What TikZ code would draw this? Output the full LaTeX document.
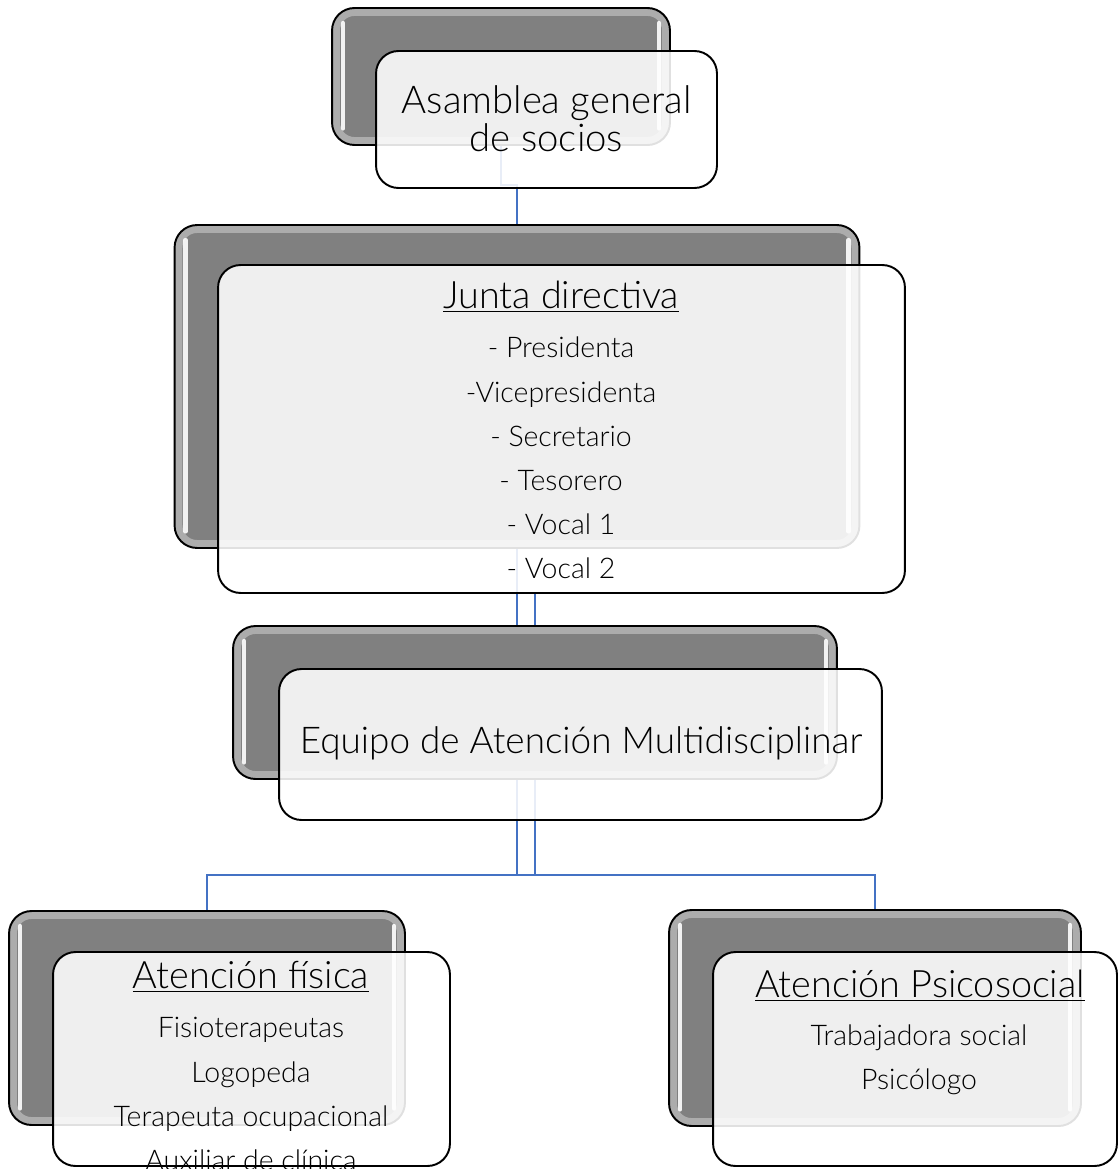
\documentclass[tikz,border=0pt]{standalone}
\usepackage{fontspec}
\setmainfont{Lato}[UprightFont=* Light]
\usetikzlibrary{calc}
\definecolor{conncol}{RGB}{68,114,196}
\definecolor{darkfill}{RGB}{128,128,128}
\pgfdeclarelayer{bg}
\pgfsetlayers{bg,main}
\begin{document}
\begin{tikzpicture}[x=0.02cm,y=-0.02cm,
  darkbox/.style={draw=black, line width=1.1pt, fill=darkfill, rounded corners=0.45cm, inner sep=0pt,
    path picture={
      \draw[white, opacity=0.35, line width=9pt, rounded corners=0.45cm]
        (path picture bounding box.north west) rectangle (path picture bounding box.south east);
      \draw[white, opacity=0.9, line width=2.4pt, line cap=round]
        ([xshift=0.22cm,yshift=-0.3cm]path picture bounding box.north west) --
        ([xshift=0.22cm,yshift=0.33cm]path picture bounding box.south west);
      \draw[white, opacity=0.9, line width=2.4pt, line cap=round]
        ([xshift=-0.22cm,yshift=-0.3cm]path picture bounding box.north east) --
        ([xshift=-0.22cm,yshift=0.33cm]path picture bounding box.south east);
    }},
  whitebox/.style={draw=black, line width=1.1pt, fill=white, fill opacity=0.88, draw opacity=1,
    rounded corners=0.45cm, inner sep=0pt},
  conn/.style={draw=conncol, line width=1.1pt},
  ttl/.style={font=\fontsize{21.5}{24}\selectfont, inner sep=0pt, text opacity=1},
  itm/.style={font=\fontsize{16.2}{25.1}\selectfont, inner sep=0pt, align=center, text opacity=1},
]
\useasboundingbox (0,0) rectangle (1119,1169);

% Asamblea
\node[darkbox, minimum width=6.76cm, minimum height=2.74cm] (adark) at (501,76.5) {};
\node[whitebox, minimum width=6.82cm, minimum height=2.74cm] (awhite) at (546.5,119.5) {};
% Junta
\node[darkbox, minimum width=13.7cm, minimum height=6.46cm] (jdark) at (517,386.5) {};
\node[whitebox, minimum width=13.74cm, minimum height=6.56cm] (jwhite) at (561.5,429) {};
% Equipo
\node[darkbox, minimum width=12.08cm, minimum height=3.06cm] (edark) at (535,702.5) {};
\node[whitebox, minimum width=12.06cm, minimum height=3.02cm] (ewhite) at (580.5,744.5) {};
% Fisica
\node[darkbox, minimum width=7.92cm, minimum height=4.28cm] (fdark) at (207,1018) {};
\node[whitebox, minimum width=7.94cm, minimum height=4.28cm] (fwhite) at (251.5,1059) {};
% Psicosocial
\node[darkbox, minimum width=8.24cm, minimum height=4.32cm] (pdark) at (875,1018) {};
\node[whitebox, minimum width=8.08cm, minimum height=4.28cm] (pwhite) at (915,1059) {};

% texts
\node[ttl, align=center, font=\fontsize{21.8}{21.5}\selectfont] (atext) at (546.5,119) {Asamblea general\\de socios};
\node[ttl] (jtitle) at (561,297) {\underline{Junta directiva}};
\node[itm] (jitems) at (561,458) {- Presidenta\\-Vicepresidenta\\- Secretario\\- Tesorero\\- Vocal 1\\- Vocal 2};
\node[ttl, font=\fontsize{21}{24}\selectfont] (etext) at (581,743) {Equipo de Atención Multidisciplinar};
\node[ttl] (ftitle) at (251,977) {\underline{Atención física}};
\node[itm] (fitems) at (251,1094) {Fisioterapeutas\\Logopeda\\Terapeuta ocupacional\\Auxiliar de clínica};
\node[ttl] (ptitle) at (920,986) {\underline{Atención Psicosocial}};
\node[itm] (pitems) at (919,1060) {Trabajadora social\\Psicólogo};

\begin{pgfonlayer}{bg}
  \fill[white] (0,0) rectangle (1119,1169);
  \coordinate (busy) at (0,875);
  \draw[conn] (adark.south) |- ($(adark.south)!.5!(jdark.north)$) -| (jdark.north);
  \draw[conn] (jdark.south) -- (jdark.south |- busy) -| (fdark.north);
  \draw[conn] (jwhite.south -| edark.north) -- (edark.north);
  \draw[conn] (edark.south) -- (edark.south |- busy) -| (pdark.north);
  \draw[conn] (jdark.south |- busy) -- (edark.south |- busy);
\end{pgfonlayer}
\end{tikzpicture}
\end{document}
